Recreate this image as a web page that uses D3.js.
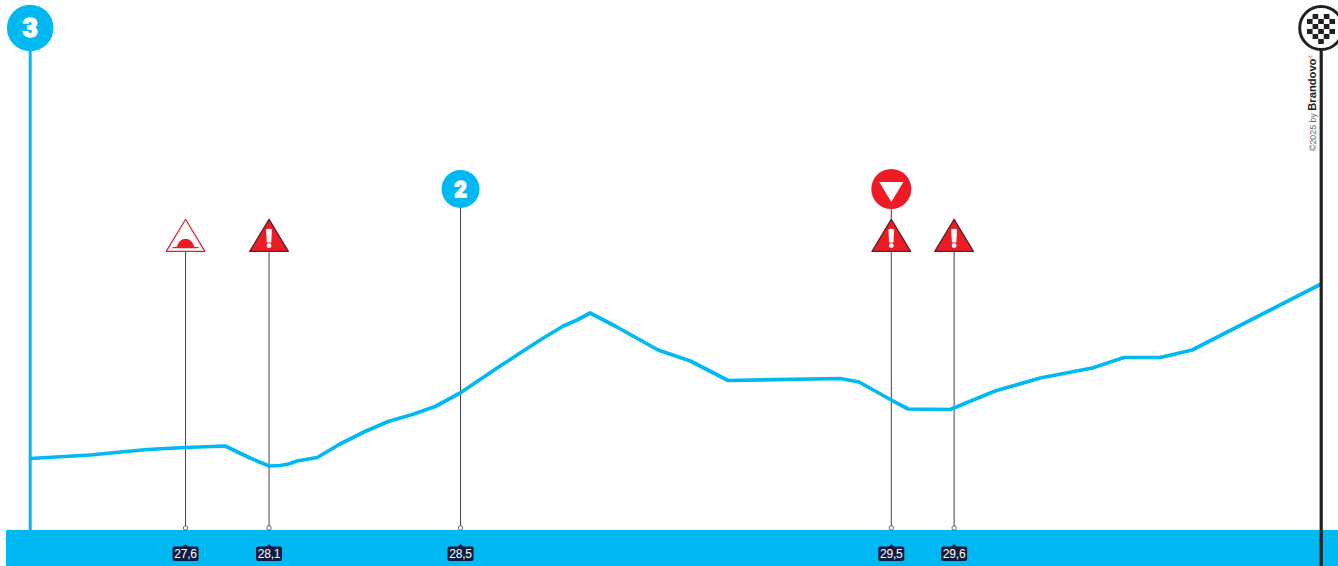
<!DOCTYPE html>
<html><head><meta charset="utf-8">
<script src="https://cdn.jsdelivr.net/npm/d3@7/dist/d3.min.js"></script>
<style>html,body{margin:0;padding:0;background:#fff;overflow:hidden}svg{display:block}</style>
</head><body><div id="c"></div>
<script>
// metres ridden since the "3 km to go" point, elevation in arbitrary units
const profileDist = [0,139,272,360,453,511,555,581,600,620,667,720,778,832,888,941,999,1092,1185,1239,1271,1301,1359,1459,1534,1622,1882,1926,2001,2040,2138,2242,2347,2468,2542,2626,2700,3000];
const profileElev = [71.5,75,80.5,82.5,84,72,64,64.5,66,69,72.5,86,98.5,108.5,115.5,123.5,137,164,190,204,210,217,204,180,169,149.5,151.5,148,130,121,120.5,139,152,162,172.5,172.5,180,246];
const markerDist = [361,555,1000,2001,2147];
const markerLabels = ["27,6","28,1","28,5","29,5","29,6"];
const markerIcons = [["hump"],["warning"],["km2"],["warning","sprint"],["warning"]];
const startLabel = "3", midLabel = "2";
const brandPrefix = "©2025 by", brandName = "Brandovo";
const colors = {blue:"#00b9f2",red:"#ed1c24",dark:"#231f20",navy:"#0e1b3d",stem:"#444"};

const W=1338,H=566,base=530;
const svg=d3.select("#c").append("svg").attr("width",W).attr("height",H).attr("viewBox",`0 0 ${W} ${H}`);
const x=d3.scaleLinear().domain([0,3000]).range([30.2,1321.2]);
const y=d3.scaleLinear().domain([0,530]).range([base,0]);
const numFont="Roboto, Inter, sans-serif", txtFont="'Liberation Sans', Arial, sans-serif";

svg.append("rect").attr("x",6).attr("y",base).attr("width",W-6).attr("height",H-base).attr("fill",colors.blue);

svg.append("line").attr("x1",x(0)).attr("x2",x(0)).attr("y1",40).attr("y2",base).attr("stroke",colors.blue).attr("stroke-width",3);
function badge(cx,cy,r,fs,t){
  svg.append("circle").attr("cx",cx).attr("cy",cy).attr("r",r).attr("fill",colors.blue);
  svg.append("text").attr("x",cx).attr("y",cy+fs*0.36).attr("text-anchor","middle").attr("fill","#fff")
    .attr("stroke","#fff").attr("stroke-width",1.3).attr("font-family",numFont).attr("font-weight",900).attr("font-size",fs).text(t);
}
badge(x(0),28,23.3,26,startLabel);

const icons=markerDist.map((d,i)=>({d,label:markerLabels[i],icons:markerIcons[i]}));
const stemTop={hump:252,warning:252,km2:205,sprint:205};
svg.selectAll("line.stem").data(icons).join("line").attr("class","stem")
  .attr("x1",d=>x(d.d)).attr("x2",d=>x(d.d))
  .attr("y1",d=>Math.min(...d.icons.map(k=>stemTop[k]))).attr("y2",base-2)
  .attr("stroke",colors.stem).attr("stroke-width",1);

svg.append("path").datum(profileDist.map((d,i)=>[d,profileElev[i]]))
  .attr("d",d3.line().x(d=>x(d[0])).y(d=>y(d[1])))
  .attr("fill","none").attr("stroke",colors.blue).attr("stroke-width",3.7).attr("stroke-linejoin","round");

svg.append("line").attr("x1",x(3000)).attr("x2",x(3000)).attr("y1",40).attr("y2",H).attr("stroke",colors.dark).attr("stroke-width",3.2);
const fx=x(3000), fy=28;
svg.append("circle").attr("cx",fx).attr("cy",fy).attr("r",21.5).attr("fill","#fff").attr("stroke",colors.dark).attr("stroke-width",3);
const cw=5.6, ch=5, cx0=1307, cy0=14;
const checkerRows=[[1,3],[0,2,4],[1,3],[0,2,4],[1,3],[2]];
checkerRows.forEach((cols,r)=>cols.forEach(c=>{
  svg.append("rect").attr("x",cx0+c*cw).attr("y",cy0+r*ch).attr("width",cw).attr("height",ch).attr("fill",colors.dark);
}));

const bt=svg.append("text").attr("transform","translate(1316,151) rotate(-90)").attr("font-family",txtFont);
bt.append("tspan").attr("font-size",8.8).attr("fill","#666").text(brandPrefix+" ");
bt.append("tspan").attr("font-size",11.2).attr("font-weight",700).attr("fill",colors.dark).text(brandName);
bt.append("tspan").attr("font-size",5).attr("fill","#666").attr("dy",-3).text("®");

function triangle(g,cx,fill,stroke,sw){
  g.append("path").attr("d",`M${cx} 219.3 L${cx+19.3} 251.4 L${cx-19.3} 251.4 Z`).attr("fill",fill).attr("stroke",stroke).attr("stroke-width",sw).attr("stroke-linejoin","round");
}
icons.forEach(m=>{
  const cx=x(m.d), g=svg.append("g");
  m.icons.forEach(k=>{
    if(k==="warning"){
      triangle(g,cx,colors.red,"#5c2226",1.3);
      g.append("path").attr("d",`M${cx-2.9} 229.5 Q${cx} 228 ${cx+2.9} 229.5 L${cx+2.2} 242.5 L${cx-2.2} 242.5 Z`).attr("fill","#fff");
      g.append("circle").attr("cx",cx).attr("cy",245.7).attr("r",2.4).attr("fill","#fff");
    } else if(k==="hump"){
      triangle(g,cx,"#fff",colors.red,1.2);
      g.append("path").attr("d",`M${cx-9} 247 C${cx-6} 240 ${cx-4} 239 ${cx} 239 C${cx+4} 239 ${cx+6} 240 ${cx+9} 247 Z`).attr("fill",colors.red);
      g.append("rect").attr("x",cx-13).attr("y",247).attr("width",26).attr("height",1.2).attr("fill",colors.red);
    } else if(k==="sprint"){
      g.append("circle").attr("cx",cx).attr("cy",189).attr("r",20).attr("fill",colors.red);
      g.append("path").attr("d",`M${cx-12} 182 L${cx+12} 182 L${cx} 202 Z`).attr("fill","#fff");
    } else if(k==="km2"){
      badge(cx,189,19,22,midLabel);
    }
  });
  g.append("circle").attr("cx",cx).attr("cy",base-2).attr("r",2.2).attr("fill","#fff").attr("stroke",colors.stem).attr("stroke-width",.8);
  g.append("path").attr("d",`M${cx-3} 547 L${cx} 544 L${cx+3} 547 Z`).attr("fill",colors.navy);
  g.append("rect").attr("x",cx-13).attr("y",546.5).attr("width",26).attr("height",14.5).attr("rx",2).attr("fill",colors.navy);
  g.append("text").attr("x",cx).attr("y",558.2).attr("text-anchor","middle").attr("fill","#fff")
    .attr("font-family",txtFont).attr("font-size",12).attr("letter-spacing",-.2).text(m.label);
});
</script></body></html>
